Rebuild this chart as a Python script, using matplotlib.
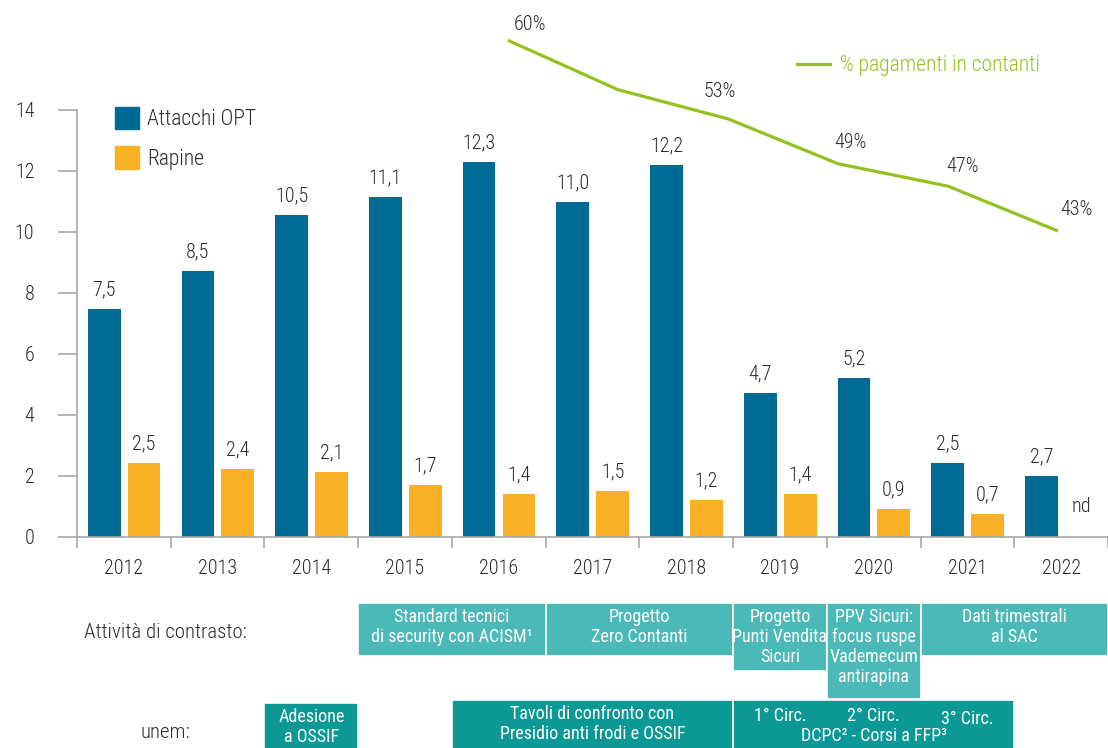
"""Attacchi OPT e rapine 2012-2022 con quota di pagamenti in contanti."""

import matplotlib

matplotlib.use("Agg")
import matplotlib.pyplot as plt
import matplotlib.transforms as mtransforms
import numpy as np
from matplotlib.lines import Line2D
from matplotlib.patches import Patch, Rectangle

plt.rcParams["font.family"] = ["Roboto Condensed", "Roboto", "DejaVu Sans"]
plt.rcParams["font.weight"] = "light"

YEARS = ["2012", "2013", "2014", "2015", "2016", "2017", "2018", "2019", "2020", "2021", "2022"]
ATTACCHI = [7.47, 8.72, 10.55, 11.13, 12.29, 10.98, 12.19, 4.72, 5.20, 2.42, 1.99]
ATTACCHI_LABELS = ["7,5", "8,5", "10,5", "11,1", "12,3", "11,0", "12,2", "4,7", "5,2", "2,5", "2,7"]
RAPINE = [2.43, 2.22, 2.12, 1.69, 1.40, 1.50, 1.20, 1.40, 0.90, 0.74, 0.0]
RAPINE_LABELS = ["2,5", "2,4", "2,1", "1,7", "1,4", "1,5", "1,2", "1,4", "0,9", "0,7", "nd"]

CASH_YEARS = [2016, 2017, 2018, 2019, 2020, 2021]
CASH_PCT = [60, 55.6, 53, 49, 47, 43]
CASH_LABELS = ["60%", "", "53%", "49%", "47%", "43%"]

# (testo, primo anno, ultimo anno)
CONTRASTO = [
    ("Standard tecnici\ndi security con ACISM¹", 2015, 2016),
    ("Progetto\nZero Contanti", 2017, 2018),
    ("Progetto\nPunti Vendita\nSicuri", 2019, 2019),
    ("PPV Sicuri:\nfocus ruspe\nVademecum\nantirapina", 2020, 2020),
    ("Dati trimestrali\nal SAC", 2021, 2022),
]
UNEM = [
    ("Adesione\na OSSIF", 2014, 2014),
    ("Tavoli di confronto con\nPresidio anti frodi e OSSIF", 2016, 2018),
    ("", 2019, 2021),
]
CIRC_LABELS = ["1° Circ.", "2° Circ.", "3° Circ."]
CIRC_YEARS = [2019, 2020, 2021]

_BLUE = "#006b94"
_ORANGE = "#f8b024"
_GREEN = "#95c11f"
_LIGHT_TEAL = "#4ab9b7"
_DARK_TEAL = "#0c9894"
_GRAY = "#a8a8a8"
_TEXT = "#2b2b2b"

W, H = 1108, 748
PT = 72 / 100  # points per pixel at dpi 100


def fy(p):
    return 1 - p / H


fig = plt.figure(figsize=(W / 100, H / 100), dpi=100)
ax = fig.add_axes([77 / W, fy(536.7), 1031 / W, (536.7 - 110) / H])

x = np.arange(len(YEARS))
ax.bar(x - 0.21, ATTACCHI, width=0.35, color=_BLUE)
ax.bar(x[:-1] + 0.215, RAPINE[:-1], width=0.35, color=_ORANGE)

for i, (h, lbl) in enumerate(zip(ATTACCHI, ATTACCHI_LABELS)):
    ax.annotate(lbl, (i - 0.21, h), xytext=(0, 19 * PT), textcoords="offset points",
                ha="center", va="center", fontsize=14.5, color=_TEXT)
for i, (h, lbl) in enumerate(zip(RAPINE, RAPINE_LABELS)):
    off = 30 if lbl == "nd" else 19
    ax.annotate(lbl, (i + 0.215, h), xytext=(0, off * PT), textcoords="offset points",
                ha="center", va="center", fontsize=14.5, color=_TEXT)

ax.set_xlim(-0.5, 10.47)
ax.set_ylim(0, 14)
ax.set_yticks(range(0, 15, 2))
ax.set_xticks(x)
ax.set_xticklabels(YEARS)
ax.set_xticks(np.arange(-0.5, 11, 1), minor=True)
ax.tick_params(axis="y", length=19 * PT, width=1.2, color=_GRAY, pad=17, labelsize=14.5,
               labelcolor=_TEXT)
ax.tick_params(axis="x", which="major", length=0, pad=16, labelsize=14.5, labelcolor=_TEXT)
ax.tick_params(axis="x", which="minor", length=11 * PT, width=1.2, color=_GRAY)
for side in ("top", "right"):
    ax.spines[side].set_visible(False)
for side in ("left", "bottom"):
    ax.spines[side].set_color(_GRAY)
    ax.spines[side].set_linewidth(1.2)

fig.legend(
    handles=[Patch(color=_BLUE, label="Attacchi OPT"), Patch(color=_ORANGE, label="Rapine")],
    loc="upper left", bbox_to_anchor=(115 / W, fy(107)), frameon=False, fontsize=15.5,
    handlelength=1.1, handleheight=1.2, handletextpad=0.4, labelspacing=0.75,
    borderpad=0, borderaxespad=0, labelcolor=_TEXT,
)

# linea % contanti su un asse sovrapposto con scala propria
ax2 = fig.add_axes([77 / W, fy(240), 1031 / W, 210 / H])
ax2.axis("off")
ax2.set_xlim(2012.082, 2021.4545)
ax2.set_ylim(42.2, 60.92)
ax2.plot(CASH_YEARS, CASH_PCT, color=_GREEN, lw=2.3, solid_capstyle="butt")
label_offsets = [(22, 16), None, (-8, 27), (12, 21), (14, 20), (18, 22)]
for yr, v, lbl, off in zip(CASH_YEARS, CASH_PCT, CASH_LABELS, label_offsets):
    if not lbl:
        continue
    ax2.annotate(lbl, (yr, v), xytext=(off[0] * PT, off[1] * PT), textcoords="offset points",
                 ha="center", va="center", fontsize=14.5, color=_TEXT)

fig.legend(
    handles=[Line2D([], [], color=_GREEN, lw=2.3, label="% pagamenti in contanti")],
    loc="center left", bbox_to_anchor=(797 / W, fy(66)), frameon=False, fontsize=15.5,
    handlelength=1.55, handletextpad=0.45, borderpad=0, borderaxespad=0, labelcolor=_GREEN,
)

# attività di contrasto e unem sotto il grafico
trans = mtransforms.blended_transform_factory(ax.transData, fig.transFigure)
years_int = [int(y) for y in YEARS]


def _box(text, y0, y1, top_px, bottom_px, color, text_top_px):
    i0 = years_int.index(y0)
    i1 = years_int.index(y1)
    fig.add_artist(Rectangle((i0 - 0.5, fy(bottom_px)), i1 - i0 + 1, (bottom_px - top_px) / H,
                             transform=trans, facecolor=color, edgecolor="white", lw=1.2))
    if text:
        fig.text((i0 + i1) / 2, fy(text_top_px), text, transform=trans, ha="center", va="top",
                 fontsize=13, color="white", linespacing=1.15, fontweight="normal")


row1_bottoms = [656, 656, 671, 699, 656]
for (text, y0, y1), bottom in zip(CONTRASTO, row1_bottoms):
    _box(text, y0, y1, 603, bottom, _LIGHT_TEAL, 608)

row2_tops = [703, 700, 700]
for (text, y0, y1), top in zip(UNEM, row2_tops):
    _box(text, y0, y1, top, 752, _DARK_TEAL, top + 5)

circ_y = [716, 716, 719]
for lbl, yr, py in zip(CIRC_LABELS, CIRC_YEARS, circ_y):
    fig.text(years_int.index(yr), fy(py), lbl, transform=trans, ha="center", va="center",
             fontsize=13, color="white", fontweight="normal")
fig.text(years_int.index(2020), fy(736), "DCPC² - Corsi a FFP³", transform=trans, ha="center",
         va="center", fontsize=13, color="white", fontweight="normal")

fig.text(165 / W, fy(632), "Attività di contrasto:", ha="center", va="center", fontsize=15,
         color=_TEXT)
fig.text(165 / W, fy(732), "unem:", ha="center", va="center", fontsize=15, color=_TEXT)

fig.savefig("out.png", dpi=100)
